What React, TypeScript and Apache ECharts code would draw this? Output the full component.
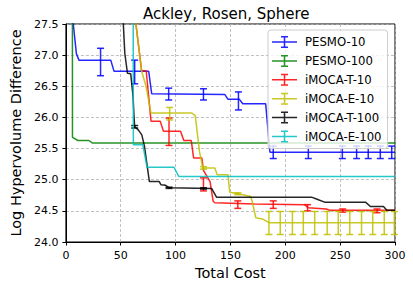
import React, { useEffect, useRef } from "react";
import * as echarts from "echarts";

const chartTitle = "Ackley, Rosen, Sphere";
const xAxisName = "Total Cost";
const yAxisName = "Log Hypervolume Difference";
const seriesNames = ["PESMO-10", "PESMO-100", "iMOCA-T-10", "iMOCA-E-10", "iMOCA-T-100", "iMOCA-E-100"];
const seriesColors = ["#0000ff", "#008000", "#ff0000", "#bfbf00", "#000000", "#00bfbf"];

// [total cost, log hypervolume difference]
const pesmo10: number[][] = [
  [6, 27.62], [9.6, 27.02], [11.9, 26.92], [40.9, 26.92], [43.9, 26.74], [75.5, 26.74], [78.2, 26.38],
  [144.8, 26.37], [147.8, 26.29], [158.2, 26.29], [161.2, 26.22], [182.1, 26.22], [186, 25.44], [300, 25.44],
];
const pesmo100: number[][] = [
  [5.9, 28.5], [6.0, 25.68], [11, 25.63], [21, 25.63], [24, 25.59], [300, 25.59],
];
const imocaT10: number[][] = [
  [63, 27.62], [69, 26.75], [73.2, 26.75], [77.6, 25.94], [86, 25.94], [88.9, 25.78], [104.5, 25.78],
  [107.5, 25.63], [114.3, 25.63], [116.4, 25.35], [123.9, 25.35], [125.4, 25.15], [131.4, 24.97],
  [134.3, 24.65], [135.8, 24.63], [172, 24.61], [217.6, 24.6], [220.9, 24.55], [237.3, 24.53],
  [240.3, 24.51], [300, 24.51],
];
const imocaE10: number[][] = [
  [63, 27.62], [69, 26.75], [73, 26.5], [77.6, 26.07], [114.8, 26.07], [117.9, 26.03], [121.8, 25.45],
  [124.8, 25.19], [135.8, 25.19], [137.9, 25.08], [147.8, 25.08], [149.3, 24.8], [158.2, 24.77],
  [168.6, 24.73], [170.1, 24.63], [173.1, 24.39], [179, 24.37], [185.1, 24.31], [300, 24.31],
];
const imocaT100: number[][] = [
  [52, 27.62], [53.7, 27.03], [56.1, 26.71], [59.1, 26.7], [61.2, 26.34], [62.1, 26.02], [62.7, 25.85],
  [66, 25.8], [69.2, 25.72], [71.6, 25.54], [76.1, 24.97], [85.1, 24.97], [86.6, 24.92], [91, 24.91],
  [94, 24.87], [132.8, 24.86], [137.3, 24.72], [223.9, 24.72], [228.4, 24.69], [235.8, 24.64],
  [273.1, 24.64], [277.6, 24.57], [289.5, 24.57], [292.6, 24.51], [300, 24.51],
];
const imocaE100: number[][] = [
  [61.3, 28.5], [61.5, 25.56], [70.1, 25.56], [74, 25.2], [98.5, 25.2], [103, 25.05], [300, 25.05],
];

// error bars: [total cost, low, high]
const pesmo10Err: number[][] = [
  [31.6, 26.67, 27.11], [62.7, 26.54, 26.92], [93.7, 26.28, 26.47], [125.4, 26.28, 26.46],
  [157.3, 26.12, 26.41], [189, 25.34, 25.54], [221, 25.34, 25.54], [252, 25.34, 25.54],
  [265, 25.34, 25.54], [275.6, 25.34, 25.54], [286.6, 25.34, 25.54], [297, 25.34, 25.54],
];
const pesmo100Err: number[][] = [];
const imocaT10Err: number[][] = [
  [94, 25.55, 25.99], [125.4, 24.82, 25.03], [156.7, 24.54, 24.66], [189, 24.54, 24.66],
  [220.3, 24.5, 24.6], [252.3, 24.48, 24.53], [283.6, 24.47, 24.53],
];
const imocaE10Err: number[][] = [
  [94.6, 25.96, 26.16], [125.4, 25.17, 25.21], [156.7, 24.76, 24.79],
  [185.1, 24.12, 24.49], [195.4, 24.12, 24.49], [206.5, 24.12, 24.49], [216.4, 24.12, 24.49],
  [226.8, 24.12, 24.49], [238.2, 24.12, 24.49], [248.3, 24.12, 24.49], [258.8, 24.12, 24.49],
  [269.5, 24.12, 24.49], [279.7, 24.12, 24.49], [290.2, 24.12, 24.49], [299.4, 24.12, 24.49],
];
const imocaT100Err: number[][] = [
  [62.7, 25.83, 25.87], [94, 24.86, 24.88], [125.4, 24.85, 24.87],
];
const imocaE100Err: number[][] = [];

const xTicks = { min: 0, max: 300, interval: 50 };
const yTicks = { min: 24, max: 27.5, interval: 0.5 };

const lineData = [pesmo10, pesmo100, imocaT10, imocaE10, imocaT100, imocaE100];
const errData = [pesmo10Err, pesmo100Err, imocaT10Err, imocaE10Err, imocaT100Err, imocaE100Err];

const FONT = "DejaVu Sans";
const legendIcon =
  "path://M0 5.25H25V6.75H0Z M11.75 0H13.25V12H11.75Z M9 0H16V1.5H9Z M9 10.5H16V12H9Z";

function errRender(color: string) {
  return (params: any, api: any) => {
    const x = api.value(0);
    const lo = api.value(1);
    const hi = api.value(2);
    const p1 = api.coord([x, lo]);
    const p2 = api.coord([x, hi]);
    const hw = 3.5;
    const style = { stroke: color, lineWidth: 1.5, opacity: 0.85 };
    return {
      type: "group",
      children: [
        { type: "line", shape: { x1: p1[0], y1: p1[1], x2: p2[0], y2: p2[1] }, style },
        { type: "line", shape: { x1: p1[0] - hw, y1: p1[1], x2: p1[0] + hw, y2: p1[1] }, style },
        { type: "line", shape: { x1: p2[0] - hw, y1: p2[1], x2: p2[0] + hw, y2: p2[1] }, style },
      ],
    };
  };
}

export default function App() {
  const ref = useRef<HTMLDivElement>(null);
  useEffect(() => {
    if (!ref.current) return;
    const chart = echarts.init(ref.current, undefined, { renderer: "svg" });
    const series: any[] = [];
    seriesNames.forEach((name, i) => {
      series.push({
        name,
        type: "line",
        data: lineData[i],
        showSymbol: false,
        symbol: "none",
        clip: true,
        lineStyle: { color: seriesColors[i], width: 1.5, opacity: 0.85 },
        itemStyle: { color: seriesColors[i], opacity: 0.85 },
        z: 2 + i * 0.01,
        silent: true,
      });
      series.push({
        name: name + " err",
        type: "custom",
        data: errData[i],
        encode: { x: 0, y: [1, 2] },
        renderItem: errRender(seriesColors[i]),
        z: 2 + i * 0.01 + 0.005,
        silent: true,
      });
    });
    chart.setOption({
      animation: false,
      title: {
        text: chartTitle,
        left: 143,
        top: 6,
        padding: 0,
        textStyle: { fontFamily: FONT, fontSize: 15, fontWeight: "normal", color: "#000" },
      },
      legend: {
        data: seriesNames.map((n) => ({ name: n, icon: legendIcon })),
        orient: "vertical",
        left: 268,
        top: 30,
        itemWidth: 25,
        itemHeight: 12,
        itemGap: 6.9,
        padding: [6, 6, 6, 4],
        backgroundColor: "rgba(255,255,255,0.8)",
        borderColor: "#cccccc",
        borderWidth: 1,
        borderRadius: 3,
        textStyle: { fontFamily: FONT, fontSize: 11.7, color: "#000", padding: [0, 0, 0, 3] },
      },
      grid: {
        left: 60,
        right: 18,
        top: 24,
        bottom: 46,
        show: true,
        borderColor: "#000",
        borderWidth: 1,
        backgroundColor: "transparent",
      },
      xAxis: {
        type: "value",
        min: xTicks.min,
        max: xTicks.max,
        interval: xTicks.interval,
        name: xAxisName,
        nameLocation: "middle",
        nameGap: 21.5,
        nameTextStyle: { fontFamily: FONT, fontSize: 14.5, color: "#000" },
        axisLine: { show: true, lineStyle: { color: "#000", width: 1 } },
        axisTick: { show: true, length: 3.5, lineStyle: { color: "#000" } },
        axisLabel: { fontFamily: FONT, fontSize: 11, color: "#000", margin: 8 },
        splitLine: { show: true, lineStyle: { color: "#b0b0b0", type: [3, 2], width: 0.8 } },
      },
      yAxis: {
        type: "value",
        min: yTicks.min,
        max: yTicks.max,
        interval: yTicks.interval,
        name: yAxisName,
        nameLocation: "middle",
        nameGap: 38,
        nameTextStyle: { fontFamily: FONT, fontSize: 14.5, color: "#000" },
        axisLine: { show: true, lineStyle: { color: "#000", width: 1 } },
        axisTick: { show: true, length: 3.5, lineStyle: { color: "#000" } },
        axisLabel: {
          fontFamily: FONT,
          fontSize: 11,
          color: "#000",
          margin: 7.5,
          formatter: (v: number) => v.toFixed(1),
        },
        splitLine: { show: true, lineStyle: { color: "#b0b0b0", type: [3, 2], width: 0.8 } },
      },
      series,
    });
    return () => chart.dispose();
  }, []);
  return <div ref={ref} style={{ width: 413, height: 288, position: "absolute", left: 0, top: 0 }} />;
}
